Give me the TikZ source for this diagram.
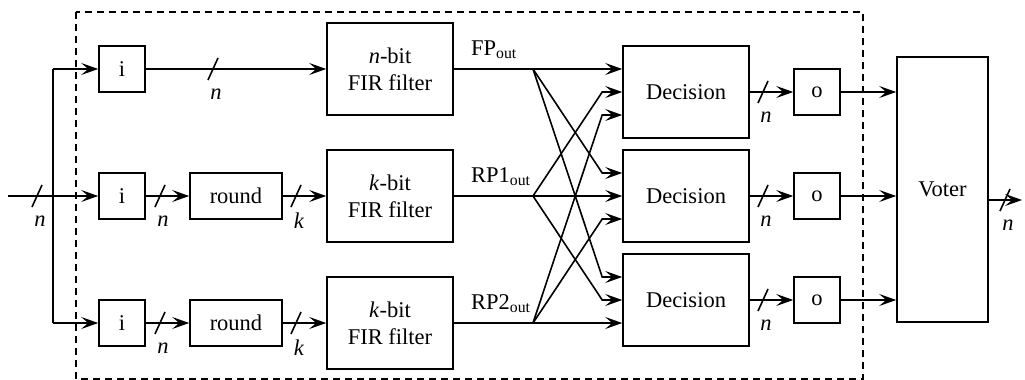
\documentclass[tikz,border=0pt]{standalone}
\usepackage{fontspec}
\setmainfont{Liberation Serif}
\usepackage{tikz}
\usetikzlibrary{calc,arrows.meta}

\begin{document}
\begin{tikzpicture}[x=1pt,y=-1pt,>={Stealth[length=17pt,width=12pt,inset=7pt]},line width=1.6pt,
    font=\fontsize{22.5}{27}\selectfont,
    small/.style={draw,minimum width=46pt,minimum height=46pt,inner sep=0pt},
    rnd/.style={draw,minimum width=92pt,minimum height=46pt,inner sep=0pt},
    big/.style={draw,minimum width=126pt,minimum height=92pt,inner sep=0pt,align=center}]
    \useasboundingbox (0,0) rectangle (1025,380);
    \draw [line width=1.3pt,dash pattern=on 7pt off 5pt] (76,12) rectangle (863,379);
    % input side
    \coordinate (Src) at (8,196);
    \coordinate (Split) at (53,196);
    \node [small] (InA) at (122,69) {i};
    \node [small] (InB) at (122,196) {i};
    \node [small] (InC) at (122,323) {i};
    \node [rnd] (RoundB) at (236,196) {round};
    \node [rnd] (RoundC) at (236,323) {round};
    \node [big] (FirA) at (390,69) {\textit{n}-bit\\FIR filter};
    \node [big] (FirB) at (390,196) {\textit{k}-bit\\FIR filter};
    \node [big] (FirC) at (390,323) {\textit{k}-bit\\FIR filter};
    \draw [->] (Src) -- (InB);
    \draw (Split |- InA) -- (Split |- InC);
    \draw [->] (Split |- InA) -- (InA);
    \draw [->] (Split |- InC) -- (InC);
    \draw [->] (InA) -- (FirA);
    \foreach \r in {B,C} {
        \draw [->] (In\r) -- (Round\r);
        \draw [->] (Round\r) -- (Fir\r);
    }
    % cross connections
    \coordinate (BrA) at (533,69);
    \coordinate (BrB) at (533,196);
    \coordinate (BrC) at (533,323);
    \node [anchor=base west] (FpOut) at (467,55) {FP\textsubscript{out}};
    \node [anchor=base west] (RpaOut) at (467,182) {RP1\textsubscript{out}};
    \node [anchor=base west] (RpbOut) at (467,309) {RP2\textsubscript{out}};
    \node [big] (DecA) at (686,92) {Decision};
    \node [big] (DecB) at (686,196) {Decision};
    \node [big] (DecC) at (686,300) {Decision};
    \foreach \s/\off in {A/-23,B/0,C/23} {
        \draw (Fir\s) -- (Br\s);
        \foreach \d in {A,B,C}
            \draw [->] (Br\s) -- ([shift={(-20,\off)}]Dec\d.west) -- ([shift={(0,\off)}]Dec\d.west);
    }
    % outputs
    \node [draw,minimum width=91pt,minimum height=265pt] (Voter) at (942.5,189.5) {\raisebox{-3pt}{Voter}};
    \coordinate (Res) at (1022,200);
    \foreach \d in {A,B,C} {
        \node [small] (Out\d) at (817,0 |- Dec\d) {o};
        \draw [->] (Dec\d) -- (Out\d);
        \draw [->] (Out\d) -- (Voter.west |- Out\d);
    }
    \draw [->] (Voter.east |- Res) -- (Res);
    % bus width marks
    \foreach \x/\y/\t [count=\i] in {37/196/n,160/196/n,296/196/k,160/323/n,296/323/k,
        213/69/n,763/92/n,763/196/n,763/300/n,1005/200/n} {
        \draw (\x,\y) +(-5,11) -- +(5,-11);
        \node (Width\i) at (\x+3,\y+25) {\textit{\t}};
    }
\end{tikzpicture}
\end{document}
